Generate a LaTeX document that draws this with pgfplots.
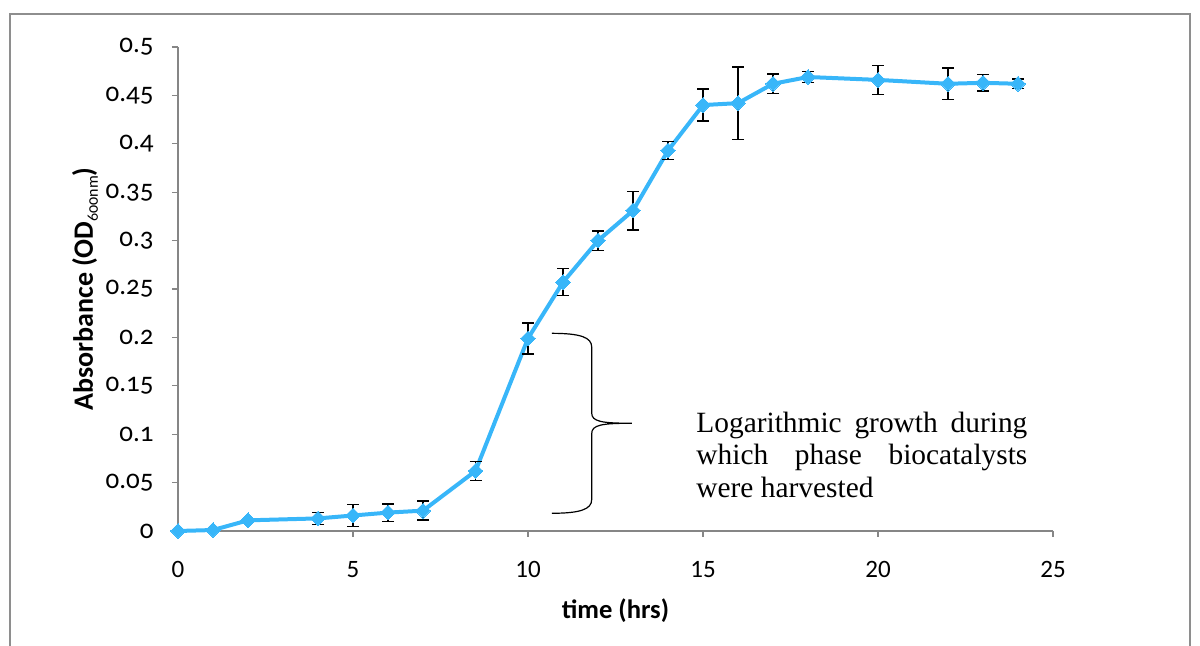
\documentclass[border=0pt]{standalone}
\usepackage{fontspec}
\setmainfont{Carlito}
\newfontfamily\oldnum[Numbers=OldStyle]{Carlito}
\newfontfamily\timesfont{Liberation Serif}
\usepackage{pgfplots}
\pgfplotsset{compat=1.18}
\usepackage{pgfplotstable}
\definecolor{curve}{HTML}{38B6F9}
\definecolor{axgray}{HTML}{868686}
\definecolor{framegray}{HTML}{8E8E8E}

% time (h), OD600, error
\pgfplotstableread{
x    y      e
0    0.000  0
1    0.001  0
2    0.011  0.002
4    0.013  0.006
5    0.016  0.0115
6    0.019  0.009
7    0.021  0.0098
8.5  0.062  0.010
10   0.199  0.016
11   0.257  0.014
12   0.300  0.010
13   0.331  0.020
14   0.393  0.0095
15   0.440  0.0165
16   0.442  0.0375
17   0.462  0.010
18   0.469  0.0057
20   0.466  0.015
22   0.462  0.0165
23   0.463  0.0086
24   0.462  0.005
}\growth

\begin{document}
\begin{tikzpicture}
\useasboundingbox (0,0) rectangle (600pt,323pt);
\draw[framegray, line width=0.6pt] (5pt,0) -- (5pt,316pt) -- (595pt,316pt) -- (595pt,0);
\begin{axis}[
  at={(89pt,57.5pt)}, anchor=south west,
  scale only axis, width=437.5pt, height=242pt,
  xmin=0, xmax=25, ymin=0, ymax=0.5,
  clip=false,
  axis lines=left,
  axis line style={-, axgray, line width=0.6pt},
  tick align=outside, major tick length=3pt,
  tick style={axgray, line width=0.6pt},
  xtick={0,5,10,15,20,25},
  ytick={0,0.05,0.1,0.15,0.2,0.25,0.3,0.35,0.4,0.45,0.5},
  /pgf/number format/assume math mode=true,
  yticklabel style={/pgf/number format/fixed, /pgf/number format/precision=2,
                    font=\oldnum\fontsize{13.5}{15}\selectfont, inner sep=0pt, anchor=east, xshift=-9pt},
  xticklabel style={font=\fontsize{12.5}{14}\selectfont, inner sep=0pt, anchor=north, yshift=-12pt},
  xlabel={time (hrs)},
  ylabel={Absorbance (OD\raisebox{-2.5pt}{\mdseries\oldnum\fontsize{8}{9}\selectfont 600nm})},
  every axis x label/.style={at={(axis description cs:0.5,-0.1798)}, anchor=base,
                             font=\fontsize{13.3}{15}\selectfont\bfseries},
  every axis y label/.style={at={(axis description cs:-0.1063,0.5)}, rotate=90, anchor=center,
                             font=\fontsize{14}{16}\selectfont\bfseries},
]
\addplot[curve, line width=2pt, mark=square*, mark size=2.6pt,
  mark options={rotate=45, solid, fill=curve, draw=curve, line width=0pt},
  error bars/.cd, y dir=both, y explicit,
  error bar style={black, line width=0.7pt},
  error mark options={black, rotate=90, mark size=3pt, line width=0.7pt}]
  table[x=x, y=y, y error=e] {\growth};

% brace marking the logarithmic phase
\draw[black, line width=0.6pt]
  (axis cs:10.68,0.2042) .. controls (axis cs:11.5,0.2042) and (axis cs:11.82,0.2) .. (axis cs:11.82,0.19)
  -- (axis cs:11.82,0.122) .. controls (axis cs:11.82,0.113) and (axis cs:12.1,0.1113) .. (axis cs:12.97,0.1113)
  .. controls (axis cs:12.1,0.1113) and (axis cs:11.82,0.1096) .. (axis cs:11.82,0.1005)
  -- (axis cs:11.82,0.0325) .. controls (axis cs:11.82,0.0225) and (axis cs:11.5,0.0183) .. (axis cs:10.68,0.0183);

\begin{scope}[every node/.style={anchor=base west, inner sep=0pt,
                                 font=\timesfont\fontsize{14.7}{16.5}\selectfont}]
\node at (axis cs:14.8,0.1018) {\makebox[165.5pt][s]{Logarithmic growth during}};
\node at (axis cs:14.8,0.0682) {\makebox[165.5pt][s]{which phase biocatalysts}};
\node at (axis cs:14.8,0.0346) {were harvested};
\end{scope}
\end{axis}
\end{tikzpicture}
\end{document}
